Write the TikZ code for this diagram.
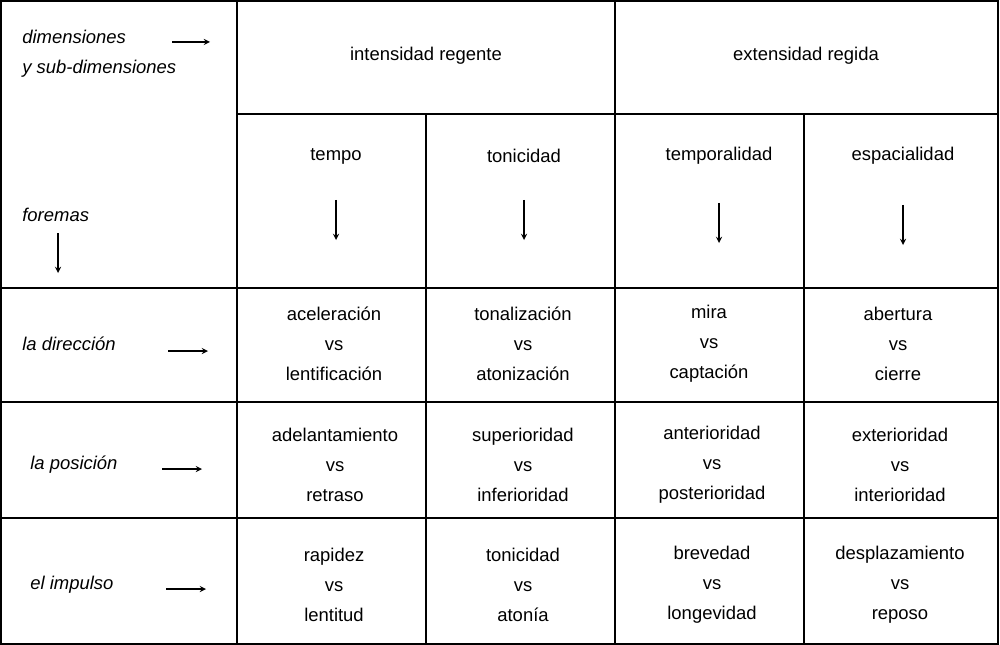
\documentclass[tikz,border=0pt]{standalone}
\usepackage{fontspec}
\setmainfont{Liberation Sans}
\begin{document}
\begin{tikzpicture}[x=0.02cm,y=-0.02cm,
  t/.style={font=\fontsize{10.5pt}{17pt}\selectfont,align=center,inner sep=0},
  lab/.style={font=\fontsize{10.5pt}{17pt}\selectfont\itshape,anchor=west,inner sep=0,align=left},
  ar/.style={->,>=stealth,line width=0.6pt}]
\useasboundingbox (0,0) rectangle (1000,645);
\draw[line width=0.7pt] (1,1) rectangle (998,644);
\foreach \y in {114}{\draw[line width=0.7pt] (237,\y)--(998,\y);}
\foreach \y in {288,402,518}{\draw[line width=0.7pt] (1,\y)--(998,\y);}
\draw[line width=0.7pt] (237,1)--(237,644);
\draw[line width=0.7pt] (615,1)--(615,644);
\draw[line width=0.7pt] (426,114)--(426,644);
\draw[line width=0.7pt] (804,114)--(804,644);
\node[lab] (d) at (22,54) {dimensiones\\y sub-dimensiones};
\coordinate (a1) at (172,42); \coordinate (a2) at (210,42); \draw[ar] (a1)--(a2);
\node[lab] (f) at (22,215) {foremas};
\coordinate (b1) at (58,233); \coordinate (b2) at (58,273); \draw[ar] (b1)--(b2);
\node[t] (h1) at (426,56) {intensidad regente};
\node[t] (h2) at (806,56) {extensidad regida};
\foreach \x/\s/\yy in {336/tempo/200,524/tonicidad/200,719/temporalidad/203,903/espacialidad/205}{
  \node[t] at (\x,156) {\s};
  \coordinate (c1) at (\x,\yy); \coordinate (c2) at (\x,\yy+40); \draw[ar] (c1)--(c2);}
\node[lab] (r1) at (22,344) {la dirección};
\draw[ar] (168,351)--(208,351);
\node[lab] (r2) at (30,465) {la posición};
\draw[ar] (162,469)--(202,469);
\node[lab] (r3) at (30,585) {el impulso};
\draw[ar] (166,589)--(206,589);
\node[t] at (334,344) {aceleración\\vs\\lentificación};
\node[t] at (523,344) {tonalización\\vs\\atonización};
\node[t] at (709,344) {mira\\vs\\captación};
\node[t] at (898,344) {abertura\\vs\\cierre};
\node[t] at (335,465) {adelantamiento\\vs\\retraso};
\node[t] at (523,465) {superioridad\\vs\\inferioridad};
\node[t] at (712,465) {anterioridad\\vs\\posterioridad};
\node[t] at (900,465) {exterioridad\\vs\\interioridad};
\node[t] at (334,585) {rapidez\\vs\\lentitud};
\node[t] at (523,585) {tonicidad\\vs\\atonía};
\node[t] at (712,585) {brevedad\\vs\\longevidad};
\node[t] at (900,585) {desplazamiento\\vs\\reposo};
\end{tikzpicture}
\end{document}
